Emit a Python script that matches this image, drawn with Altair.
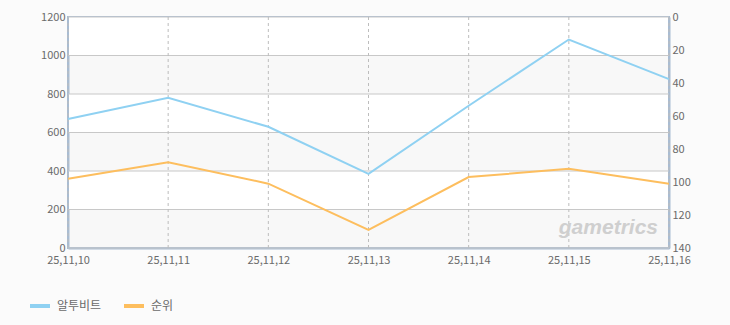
import altair as alt
import pandas as pd

dates = ["25,11,10", "25,11,11", "25,11,12", "25,11,13", "25,11,14", "25,11,15", "25,11,16"]
users = [670, 780, 630, 385, 739, 1083, 877]
ranks = [98, 88, 101, 129, 97, 92, 101]
left_ticks = [0, 200, 400, 600, 800, 1000, 1200]
right_ticks = [0, 20, 40, 60, 80, 100, 120, 140]
series_names = ["알투비트", "순위"]
series_colors = ["#8fd1f2", "#fdbe5e"]

FONT = "Noto Sans CJK KR"
LABEL = "#6a6a6a"
AXIS_LINE = "#a9bcd2"

df_u = pd.DataFrame({"date": dates, "value": users})
df_r = pd.DataFrame({"date": dates, "rank": ranks})
df_d = pd.DataFrame({"date": dates})
df_h = pd.DataFrame({"v": left_ticks})
# white bands between alternate gridlines (1000-1200, 600-800, 200-400)
bands = pd.DataFrame({
    "y0": [left_ticks[i] for i in (1, 3, 5)],
    "y1": [left_ticks[i] for i in (2, 4, 6)],
})

xscale = alt.Scale(type="point", padding=0, domain=dates)
xaxis = alt.Axis(title=None, labelAngle=0, grid=False, tickSize=0,
                 labelPadding=6, domainColor=AXIS_LINE, domainWidth=2,
                 labelColor=LABEL, labelFontSize=11, labelFont=FONT)

yscale_left = alt.Scale(domain=[0, 1200], nice=False, zero=True)
yaxis_left = alt.Axis(title=None, values=left_ticks, grid=False, format="d",
                      labelOverlap=False, tickSize=0, labelPadding=3,
                      domainColor=AXIS_LINE, domainWidth=2, labelColor=LABEL,
                      labelFontSize=11, labelFont=FONT)

band_layer = alt.Chart(bands).mark_rect(color="white").encode(
    x=alt.value(1), x2=alt.value(600),
    y=alt.Y("y0:Q", scale=yscale_left, axis=yaxis_left),
    y2="y1:Q",
)

hgrid = alt.Chart(df_h).mark_rule(color="#c8c8c8", strokeWidth=1).encode(
    y=alt.Y("v:Q", scale=yscale_left, axis=yaxis_left),
)

vgrid = alt.Chart(df_d).mark_rule(color="#bdbdbd", strokeWidth=1, strokeDash=[3, 3]).encode(
    x=alt.X("date:N", scale=xscale, axis=xaxis),
)

blue = alt.Chart(df_u).mark_line(strokeWidth=2).encode(
    x=alt.X("date:N", scale=xscale, axis=xaxis),
    y=alt.Y("value:Q", scale=yscale_left, axis=yaxis_left),
    color=alt.datum(series_names[0]),
)

left = alt.layer(band_layer, hgrid, vgrid, blue)

orange = alt.Chart(df_r).mark_line(strokeWidth=2).encode(
    x=alt.X("date:N", scale=xscale, axis=xaxis),
    y=alt.Y("rank:Q", scale=alt.Scale(domain=[0, 140], reverse=True, nice=False),
            axis=alt.Axis(title=None, orient="right", values=right_ticks, grid=False,
                          labelOverlap=False, tickSize=0, labelPadding=3,
                          domainColor=AXIS_LINE, domainWidth=2,
                          labelColor=LABEL, labelFontSize=11, labelFont=FONT)),
    color=alt.datum(series_names[1]),
)

wm = alt.Chart(pd.DataFrame({"t": ["gametrics"]})).mark_text(
    font="Liberation Sans", fontStyle="italic", fontWeight="bold", fontSize=21,
    color="#cfcfcf", align="right", baseline="middle"
).encode(x=alt.value(590), y=alt.value(211), text="t:N")

chart = alt.layer(left, orange, wm).resolve_scale(y="independent").encode(
    color=alt.Color(
        scale=alt.Scale(domain=series_names, range=series_colors),
        legend=alt.Legend(title=None, orient="none", direction="horizontal",
                          legendX=-40, legendY=277, symbolType="stroke",
                          symbolSize=400, symbolStrokeWidth=4, labelFontSize=12,
                          labelFont=FONT, labelColor=LABEL, columnPadding=14,
                          labelOffset=5),
    )
).properties(
    width=601, height=231, background="#fbfbfb",
    padding={"left": 68, "top": 17, "right": 61, "bottom": 77},
    autosize=alt.AutoSizeParams(type="none"),
).configure_view(
    fill="#f8f8f8", stroke=AXIS_LINE, strokeWidth=2
)

chart.save("out.html", embed_options={"renderer": "svg", "actions": False})
